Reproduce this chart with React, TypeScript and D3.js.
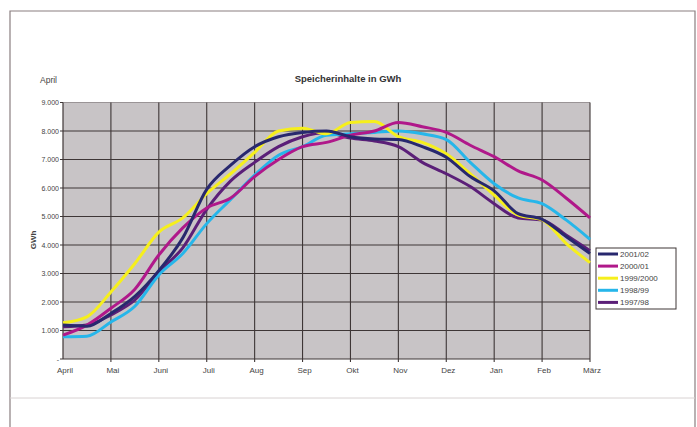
import React, { useEffect, useRef } from 'react';
import * as d3 from 'd3';

// months of the storage year, April to March
const months = ['April', 'Mai', 'Juni', 'Juli', 'Aug', 'Sep', 'Okt', 'Nov', 'Dez', 'Jan', 'Feb', 'März'];
const yTicks = [0, 1000, 2000, 3000, 4000, 5000, 6000, 7000, 8000, 9000];

// readings every half month (GWh)
const s2001 = [1190, 1150, 1600, 2200, 3100, 4250, 5950, 6800, 7450, 7800, 7950, 8000, 7800, 7720, 7700, 7450, 7080, 6400, 5900, 5100, 4900, 4300, 3700];
const s2000 = [840, 1190, 1780, 2450, 3650, 4600, 5300, 5650, 6400, 7000, 7450, 7600, 7850, 8000, 8300, 8150, 7950, 7500, 7100, 6600, 6280, 5650, 4950];
const s1999 = [1270, 1480, 2350, 3350, 4450, 4950, 5800, 6500, 7250, 8000, 8100, 7900, 8300, 8330, 7800, 7600, 7200, 6500, 5750, 5050, 4880, 4060, 3380];
const s1998 = [780, 800, 1300, 1850, 2950, 3700, 4750, 5600, 6450, 7150, 7450, 7850, 7900, 7950, 8000, 7900, 7700, 6900, 6150, 5650, 5450, 4880, 4200];
const s1997 = [1130, 1190, 1550, 2070, 3060, 3900, 5250, 6250, 6900, 7450, 7800, 7950, 7750, 7650, 7450, 6900, 6500, 6050, 5450, 4950, 4880, 4350, 3800];

const seriesNames = ['2001/02', '2000/01', '1999/2000', '1998/99', '1997/98'];
const seriesValues = [s2001, s2000, s1999, s1998, s1997];
const seriesColors = ['#28286e', '#b0188a', '#f6ef1c', '#26b6ea', '#5b1f78'];

const fmt = (v: number) => (v === 0 ? '-' : d3.format(',')(v).replace(/,/g, '.'));

export default function App() {
  const ref = useRef<SVGSVGElement>(null);

  useEffect(() => {
    if (!ref.current) return;
    const svg = d3.select(ref.current);
    svg.selectAll('*').remove();

    const W = 697, H = 427;
    const left = 63, right = 590, top = 102.5, bottom = 359;
    const font = 'Liberation Sans, Arial, sans-serif';

    // outer frame of the page
    svg.append('rect').attr('width', W).attr('height', H).attr('fill', '#fff');
    svg.append('path')
      .attr('d', `M10,${H} V11 H695 V${H}`)
      .attr('fill', 'none').attr('stroke', '#8a7f80').attr('stroke-width', 1.2);
    svg.append('line').attr('x1', 10).attr('x2', 695).attr('y1', 398).attr('y2', 398)
      .attr('stroke', '#d8d2d2').attr('stroke-width', 1);

    const x = d3.scaleLinear().domain([0, 11]).range([left, right]);
    const y = d3.scaleLinear().domain([0, 9000]).range([bottom, top]);

    svg.append('rect')
      .attr('x', left).attr('y', top)
      .attr('width', right - left).attr('height', bottom - top)
      .attr('fill', '#c8c4c6');

    const g = svg.append('g');
    // horizontal grid
    g.selectAll('.hg').data(yTicks.slice(1)).enter().append('line')
      .attr('x1', left).attr('x2', right)
      .attr('y1', d => y(d)).attr('y2', d => y(d))
      .attr('stroke', d => (d === 9000 ? '#9a9496' : '#3e3636')).attr('stroke-width', 1.1);
    // vertical grid
    g.selectAll('.vg').data(d3.range(1, 12)).enter().append('line')
      .attr('x1', d => x(d)).attr('x2', d => x(d))
      .attr('y1', top).attr('y2', bottom + 3)
      .attr('stroke', '#3e3636').attr('stroke-width', 1.1);

    // axes
    svg.append('line').attr('x1', left).attr('x2', left).attr('y1', top).attr('y2', bottom)
      .attr('stroke', '#3e3636').attr('stroke-width', 1.2);
    svg.append('line').attr('x1', left).attr('x2', right).attr('y1', bottom).attr('y2', bottom)
      .attr('stroke', '#3e3636').attr('stroke-width', 1.2);

    svg.selectAll('.yt').data(yTicks).enter().append('line')
      .attr('x1', left - 3).attr('x2', left)
      .attr('y1', d => y(d)).attr('y2', d => y(d))
      .attr('stroke', '#3e3636');
    svg.selectAll('.yl').data(yTicks).enter().append('text')
      .attr('x', left - 4).attr('y', d => y(d) + 2.5)
      .attr('text-anchor', 'end')
      .attr('font-family', font).attr('font-size', 7).attr('fill', '#444')
      .text(d => fmt(d));

    svg.selectAll('.xl').data(months).enter().append('text')
      .attr('x', (_, i) => x(i) + 2).attr('y', 373)
      .attr('text-anchor', 'middle')
      .attr('font-family', font).attr('font-size', 8).attr('fill', '#444')
      .text(d => d);

    // lines
    const line = d3.line<number>()
      .x((_, i) => x(i / 2))
      .y(d => y(d))
      .curve(d3.curveMonotoneX);

    const order = [4, 3, 2, 1, 0];
    svg.selectAll('.series').data(order).enter().append('path')
      .attr('d', i => line(seriesValues[i]))
      .attr('fill', 'none')
      .attr('stroke', i => seriesColors[i])
      .attr('stroke-width', 3)
      .attr('stroke-linejoin', 'round');

    // titles
    svg.append('text').attr('x', 348).attr('y', 82)
      .attr('text-anchor', 'middle').attr('font-family', font)
      .attr('font-size', 9.5).attr('font-weight', 'bold').attr('fill', '#333')
      .text('Speicherinhalte in GWh');
    svg.append('text').attr('x', 40).attr('y', 83)
      .attr('font-family', font).attr('font-size', 8.5).attr('fill', '#444')
      .text('April');
    svg.append('text')
      .attr('transform', 'translate(36,240) rotate(-90)')
      .attr('text-anchor', 'middle').attr('font-family', font)
      .attr('font-size', 8).attr('font-weight', 'bold').attr('fill', '#444')
      .text('GWh');

    // legend
    const lg = svg.append('g').attr('transform', 'translate(596,248)');
    lg.append('rect').attr('width', 80).attr('height', 61)
      .attr('fill', '#fff').attr('stroke', '#3e3636').attr('stroke-width', 1);
    const items = lg.selectAll('.li').data(seriesNames).enter().append('g')
      .attr('transform', (_, i) => `translate(0,${6 + i * 12.1})`);
    items.append('line').attr('x1', 2).attr('x2', 22).attr('y1', 0).attr('y2', 0)
      .attr('stroke', (_, i) => seriesColors[i]).attr('stroke-width', 3);
    items.append('text').attr('x', 24).attr('y', 3)
      .attr('font-family', font).attr('font-size', 8).attr('fill', '#444')
      .text(d => d);
  }, []);

  return (
    <svg ref={ref} width={697} height={427}
      style={{ position: 'absolute', left: 0, top: 0, display: 'block' }} />
  );
}
